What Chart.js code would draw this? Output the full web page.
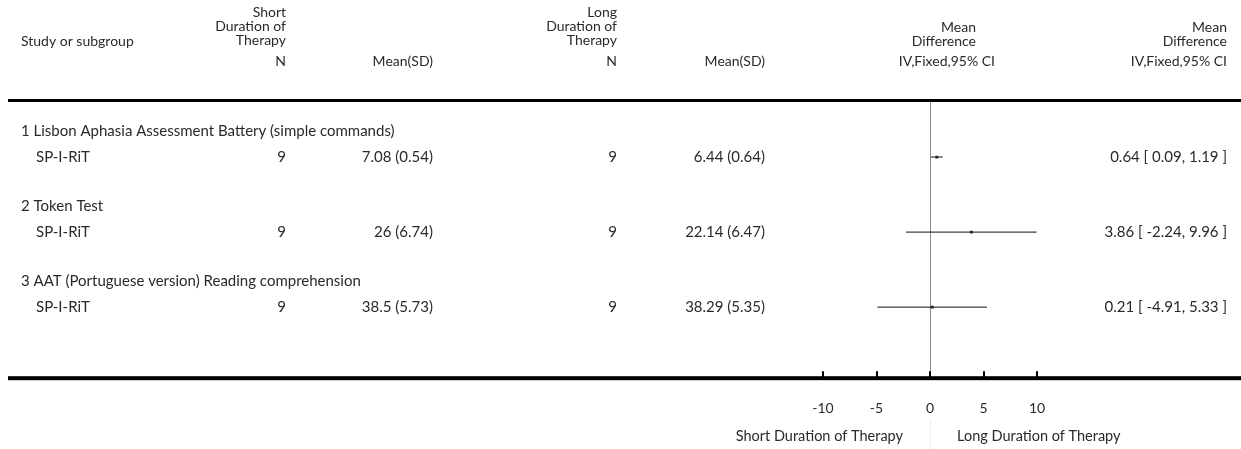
<!DOCTYPE html>
<html>
<head>
<meta charset="utf-8">
<script src="https://cdn.jsdelivr.net/npm/chart.js@4/dist/chart.umd.min.js"></script>
<style>
  html, body { margin: 0; padding: 0; background: #fff; }
  #wrap { position: relative; width: 1241px; height: 449px; }
</style>
</head>
<body>
<div id="wrap"><canvas id="forest" width="1241" height="449"></canvas></div>
<script>
// --- data ---
const subgroups = [
  "1 Lisbon Aphasia Assessment Battery (simple commands)",
  "2 Token Test",
  "3 AAT (Portuguese version) Reading comprehension"
];
const studies = ["SP-I-RiT", "SP-I-RiT", "SP-I-RiT"];
const shortN = [9, 9, 9];
const shortMean = [7.08, 26, 38.5];
const shortSD = [0.54, 6.74, 5.73];
const longN = [9, 9, 9];
const longMean = [6.44, 22.14, 38.29];
const longSD = [0.64, 6.47, 5.35];
const meanDiff = [0.64, 3.86, 0.21];
const ciLow = [0.09, -2.24, -4.91];
const ciHigh = [1.19, 9.96, 5.33];
const xTicks = [-10, -5, 0, 5, 10];
const rows = [1, 2, 3];

const FONT = "Lato, 'Open Sans', sans-serif";
const TEXT = "#2a2a2a";

// CI whiskers, one line dataset each
const ciSets = rows.map((r, i) => ({
  type: "line",
  data: [{ x: ciLow[i], y: r }, { x: ciHigh[i], y: r }],
  borderColor: "#111",
  borderWidth: 1,
  pointRadius: 0,
  order: 2
}));

const pointSet = {
  type: "scatter",
  data: rows.map((r, i) => ({ x: meanDiff[i], y: r })),
  pointStyle: "rect",
  pointRadius: 2,
  backgroundColor: "#222",
  borderWidth: 0,
  order: 1
};

// table text, rules and tick marks
const tablePlugin = {
  id: "table",
  beforeDraw(chart) {
    const c = chart.ctx;
    c.save();
    c.fillStyle = "#fff";
    c.fillRect(0, 0, chart.width, chart.height);
    c.restore();
  },
  afterDraw(chart) {
    const c = chart.ctx;
    const xs = chart.scales.x;
    const ys = chart.scales.y;
    const area = chart.chartArea;
    const zero = xs.getPixelForValue(0);

    c.save();
    c.fillStyle = "#000";
    // top and bottom rules
    c.fillRect(8, area.top - 2, chart.width - 8, 3);
    c.fillRect(8, area.bottom - 2, chart.width - 8, 4);
    // tick marks pointing up from the bottom rule
    xTicks.forEach(v => {
      const px = Math.round(xs.getPixelForValue(v));
      c.fillRect(px - 1, area.bottom - 7, 2, 6);
    });
    // faint divider between the two favour labels
    c.fillStyle = "#eee";
    c.fillRect(Math.round(zero), 420, 1, 29);

    c.fillStyle = TEXT;
    c.textBaseline = "middle";

    const txt = (s, x, y, align) => { c.textAlign = align; c.fillText(s, x, y); };

    // header
    c.font = "14px " + FONT;
    txt("Study or subgroup", 21, 41, "left");
    ["Short", "Duration of", "Therapy"].forEach((s, i) => txt(s, 286, 12 + i * 14, "right"));
    ["Long", "Duration of", "Therapy"].forEach((s, i) => txt(s, 617, 12 + i * 14, "right"));
    ["Mean", "Difference"].forEach((s, i) => txt(s, 976, 27 + i * 14, "right"));
    ["Mean", "Difference"].forEach((s, i) => txt(s, 1227, 27 + i * 14, "right"));
    txt("N", 286, 61, "right");
    txt("Mean(SD)", 433, 61, "right");
    txt("N", 617, 61, "right");
    txt("Mean(SD)", 765, 61, "right");
    txt("IV,Fixed,95% CI", 995, 61, "right");
    txt("IV,Fixed,95% CI", 1227, 61, "right");

    // body rows
    c.font = "15px " + FONT;
    rows.forEach((r, i) => {
      const y = ys.getPixelForValue(r);
      const yh = ys.getPixelForValue(r - 0.345);
      txt(subgroups[i], 21, yh, "left");
      txt(studies[i], 36, y, "left");
      txt(String(shortN[i]), 286, y, "right");
      txt(shortMean[i] + " (" + shortSD[i].toFixed(2) + ")", 433, y, "right");
      txt(String(longN[i]), 617, y, "right");
      txt(longMean[i] + " (" + longSD[i].toFixed(2) + ")", 765, y, "right");
      txt(meanDiff[i].toFixed(2) + " [ " + ciLow[i].toFixed(2) + ", " + ciHigh[i].toFixed(2) + " ]", 1227, y, "right");
    });

    // favour labels
    c.font = "14.5px " + FONT;
    txt("Short Duration of Therapy", zero - 27, 436, "right");
    txt("Long Duration of Therapy", zero + 27, 436, "left");
    c.restore();
  }
};

new Chart(document.getElementById("forest"), {
  data: { datasets: [...ciSets, pointSet] },
  options: {
    responsive: false,
    animation: false,
    devicePixelRatio: 1,
    layout: { padding: { left: 823, right: 204, top: 101, bottom: 10 } },
    plugins: {
      legend: { display: false },
      tooltip: { enabled: false }
    },
    scales: {
      x: {
        type: "linear",
        min: -10,
        max: 10,
        afterBuildTicks: (s) => { s.ticks = xTicks.map(v => ({ value: v })); },
        ticks: {
          padding: 22,
          color: TEXT,
          font: { family: FONT, size: 14 },
          maxRotation: 0
        },
        grid: {
          drawTicks: false,
          lineWidth: 1,
          color: (ctx) => (ctx.tick && ctx.tick.value === 0 ? "#8a8a8a" : "rgba(0,0,0,0)")
        },
        border: { display: false }
      },
      y: {
        type: "linear",
        min: 0.2533,
        max: 3.9467,
        reverse: true,
        display: false
      }
    }
  },
  plugins: [tablePlugin]
});
</script>
</body>
</html>
